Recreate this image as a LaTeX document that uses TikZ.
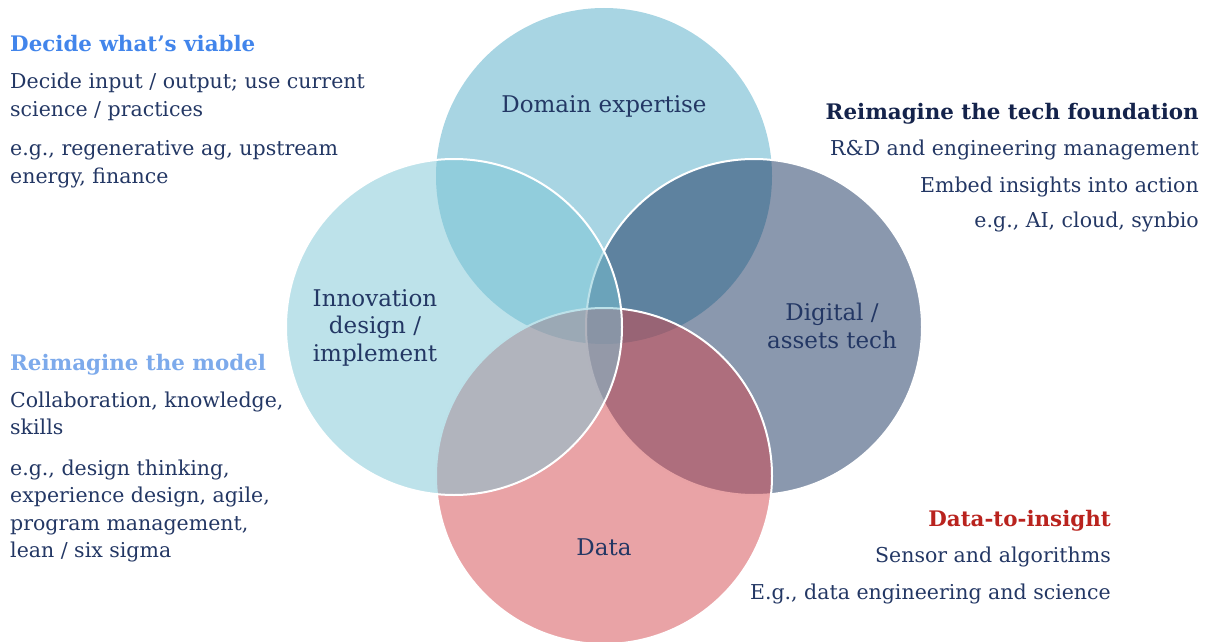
\documentclass[tikz,border=0pt]{standalone}
\usepackage{fontspec}
\setmainfont{DejaVu Serif}
\definecolor{txt}{RGB}{35,55,100}
\definecolor{topc}{RGB}{81,171,199}
\definecolor{leftc}{RGB}{123,197,213}
\definecolor{rightc}{RGB}{21,49,93}
\definecolor{botc}{RGB}{211,71,77}
\definecolor{hblue}{RGB}{66,133,235}
\definecolor{hlight}{RGB}{125,170,235}
\definecolor{hnavy}{RGB}{20,35,75}
\definecolor{hred}{RGB}{185,35,30}
\begin{document}
\begin{tikzpicture}[x=1pt,y=-1pt,
  body/.style={font=\fontsize{20.5}{28}\selectfont, text=txt, inner sep=0pt},
  bodyl/.style={body, align=left, anchor=base west},
  bodyr/.style={body, align=right, anchor=base east},
  head/.style={font=\fontsize{21.4}{28}\selectfont\bfseries, inner sep=0pt},
  clabel/.style={font=\fontsize{23}{27.5}\selectfont, text=txt, align=center, inner sep=0pt},
  venn/.style={fill opacity=0.5, draw=white, line width=2pt}]
\useasboundingbox (0,0) rectangle (1208,642);
\coordinate (cT) at (604,176);
\coordinate (cL) at (454,327);
\coordinate (cR) at (754,327);
\coordinate (cB) at (604,476);
% circles
\fill[topc, fill opacity=0.5] (cT) circle (168pt);
\filldraw[venn, fill=rightc] (cR) circle (168pt);
\filldraw[venn, fill=botc] (cB) circle (168pt);
\filldraw[venn, fill=leftc] (cL) circle (168pt);
% circle labels
\node[clabel, anchor=base] (domain) at (604,113) {Domain expertise};
\node[clabel, anchor=base] (innov) at (375,361) {Innovation\\design /\\implement};
\node[clabel, anchor=base] (digital) at (832,348) {Digital /\\assets tech};
\node[clabel, anchor=base] (data) at (604,555) {Data};
% left top block
\node[head, text=hblue, anchor=base west] (h1) at (10,52) {Decide what’s viable};
\node[bodyl] (t1a) at (10,116) {Decide input / output; use current\\science / practices};
\node[bodyl] (t1b) at (10,183) {e.g., regenerative ag, upstream\\energy, finance};
% left bottom block
\node[head, text=hlight, anchor=base west] (h2) at (10,370) {Reimagine the model};
\node[bodyl, font=\fontsize{20.5}{27.5}\selectfont] (t2a) at (10,434.5) {Collaboration, knowledge,\\skills};
\node[bodyl, font=\fontsize{20.5}{27.5}\selectfont] (t2b) at (10,557.5) {e.g., design thinking,\\experience design, agile,\\program management,\\lean / six sigma};
% right top block
\node[head, text=hnavy, anchor=base east] (h3) at (1199,119) {Reimagine the tech foundation};
\node[bodyr] (t3a) at (1199,155) {R\&D and engineering management};
\node[bodyr] (t3b) at (1199,192) {Embed insights into action};
\node[bodyr] (t3c) at (1199,227) {e.g., AI, cloud, synbio};
% right bottom block
\node[head, text=hred, anchor=base east] (h4) at (1111,526) {Data-to-insight};
\node[bodyr] (t4a) at (1111,562) {Sensor and algorithms};
\node[bodyr] (t4b) at (1111,599) {E.g., data engineering and science};
\end{tikzpicture}
\end{document}
